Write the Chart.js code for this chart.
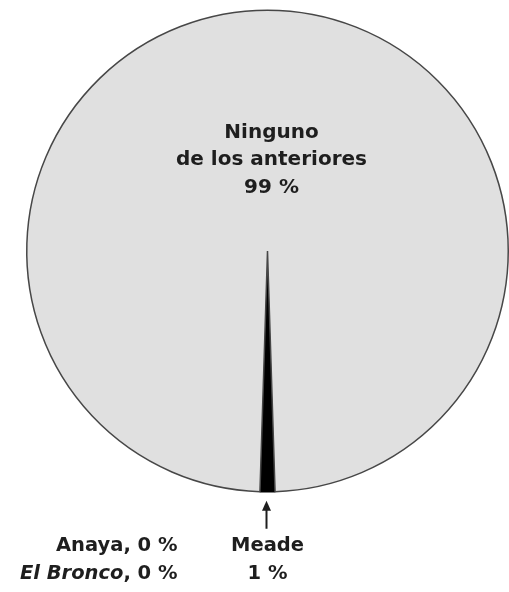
<!DOCTYPE html>
<html>
<head>
<meta charset="utf-8">
<script src="https://cdn.jsdelivr.net/npm/chart.js@4.4.1/dist/chart.umd.min.js"></script>
<style>
  html, body { margin: 0; padding: 0; background: #fff; }
  #wrap { width: 509px; height: 592px; position: relative; }
</style>
</head>
<body>
<div id="wrap"><canvas id="pie"></canvas></div>
<script>
// data
const categories = ["Meade", "Ninguno de los anteriores", "Anaya", "El Bronco"];
const percentages = [1, 99, 0, 0];
const sliceColors = ["#000000", "#e0e0e0", "#000000", "#000000"];

const FONT = "'DejaVu Sans', sans-serif";
const INK = "#1e1e1e";

// labels drawn around the pie, placed from the arc geometry
const labelPlugin = {
  id: "pieLabels",
  afterDraw(chart) {
    const ctx = chart.ctx;
    const arc = chart.getDatasetMeta(0).data[0];
    const cx = arc.x, cy = arc.y, r = arc.outerRadius;

    ctx.save();
    ctx.fillStyle = INK;
    ctx.textAlign = "center";
    ctx.textBaseline = "middle";

    // big slice label
    ctx.font = "bold 20px " + FONT;
    ctx.fillText("Ninguno", cx + 4, cy - 118);
    ctx.fillText("de los anteriores", cx + 4, cy - 91);
    ctx.fillText(percentages[1] + " %", cx + 4, cy - 63);

    // arrow under the thin slice
    const bottom = cy + r;
    const ax = cx - 1;
    ctx.strokeStyle = INK;
    ctx.lineWidth = 2;
    ctx.beginPath();
    ctx.moveTo(ax, bottom + 14);
    ctx.lineTo(ax, bottom + 37);
    ctx.stroke();
    ctx.beginPath();
    ctx.moveTo(ax, bottom + 9);
    ctx.lineTo(ax - 4.5, bottom + 19);
    ctx.lineTo(ax + 4.5, bottom + 19);
    ctx.closePath();
    ctx.fill();

    ctx.font = "bold 19.5px " + FONT;
    ctx.fillText(categories[0], cx, bottom + 54);
    ctx.fillText(percentages[0] + " %", cx, bottom + 82);

    // zero slices, right aligned
    const rx = cx - 90;
    ctx.textAlign = "right";
    ctx.fillText(categories[2] + ", " + percentages[2] + " %", rx, bottom + 54);
    const tail = ", " + percentages[3] + " %";
    ctx.fillText(tail, rx, bottom + 82);
    const tw = ctx.measureText(tail).width;
    ctx.font = "italic bold 19.5px " + FONT;
    ctx.fillText(categories[3], rx - tw, bottom + 82);
    ctx.restore();
  }
};

new Chart(document.getElementById("pie"), {
  type: "pie",
  data: {
    labels: categories,
    datasets: [{
      data: percentages,
      backgroundColor: sliceColors,
      borderColor: ["#000000", "#474747", "#000000", "#000000"],
      borderWidth: 1.5,
    }]
  },
  options: {
    responsive: true,
    maintainAspectRatio: false,
    animation: false,
    rotation: 180 - 1.8, // thin slice centred at the bottom
    layout: { padding: { left: 26, right: -2, top: 8, bottom: 98 } },
    plugins: {
      legend: { display: false },
      tooltip: { enabled: false }
    }
  },
  plugins: [labelPlugin]
});
</script>
</body>
</html>
